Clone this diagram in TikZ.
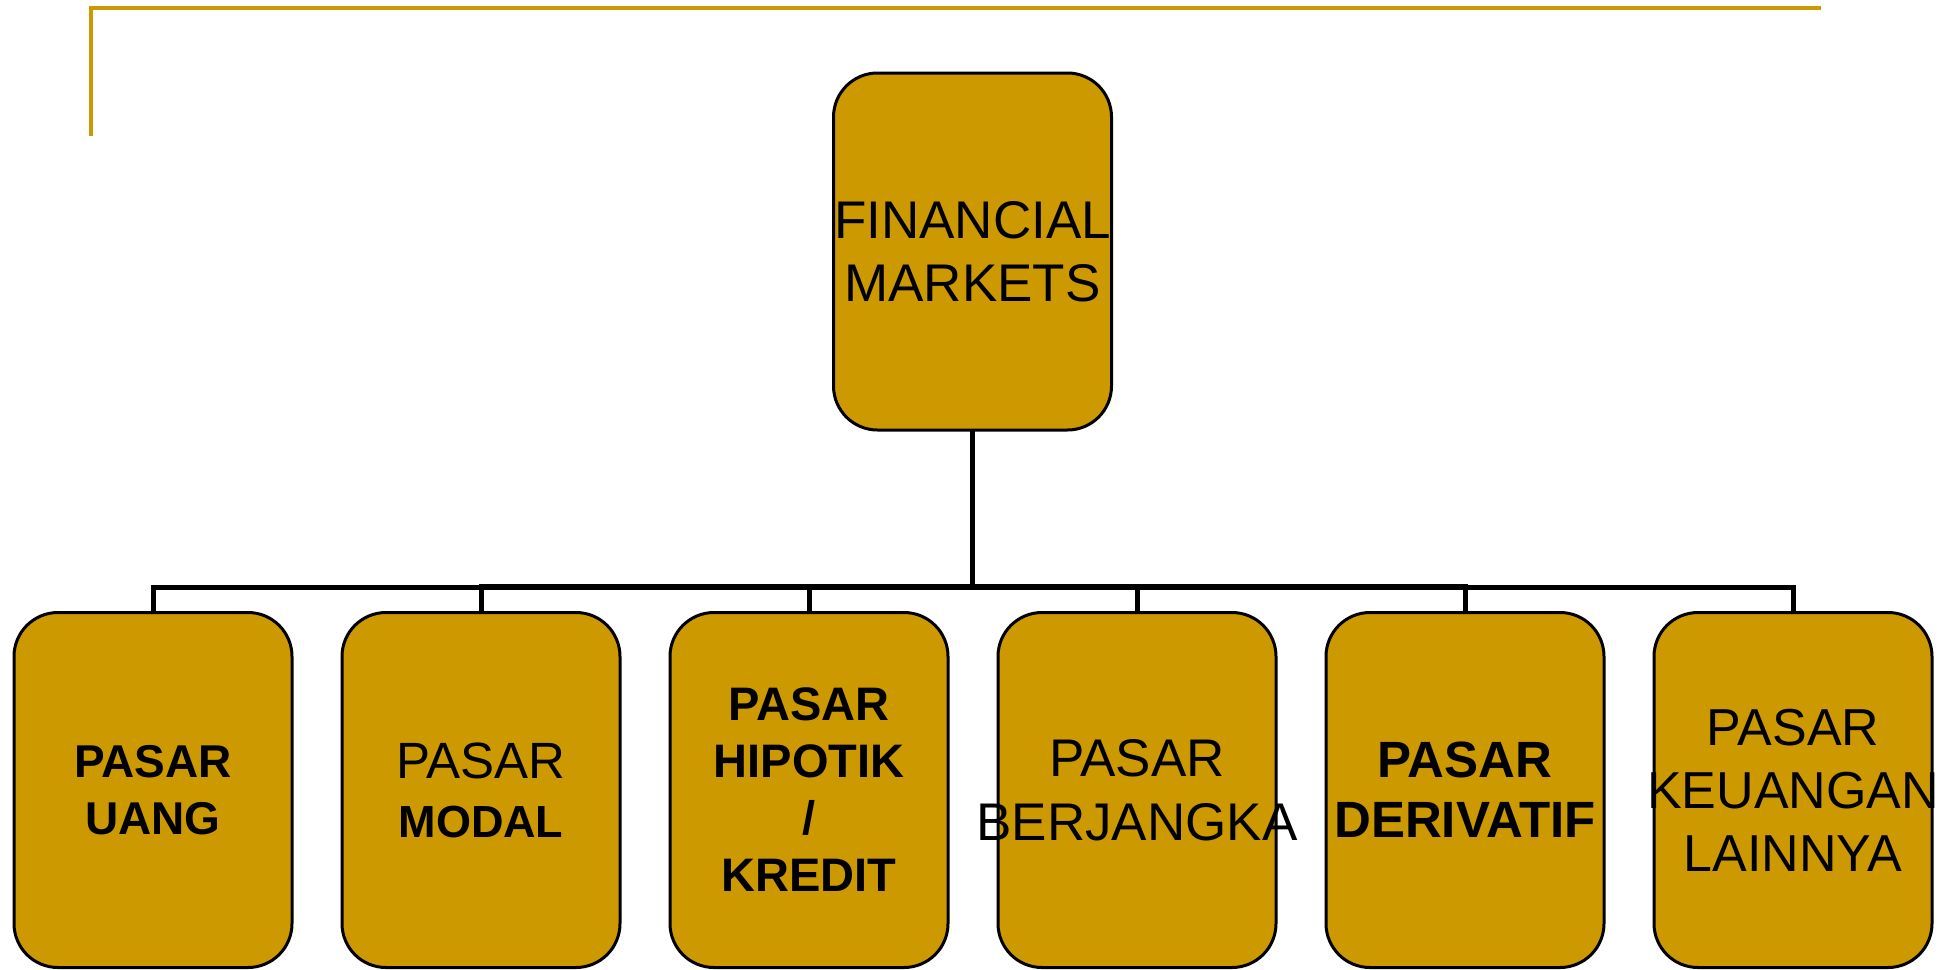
\documentclass[tikz,border=0pt]{standalone}
\usepackage{fontspec}
\setmainfont{Liberation Sans}
\definecolor{gold}{HTML}{CC9900}
\begin{document}
\begin{tikzpicture}[x=1pt,y=-1pt,
  box/.style={draw=black, line width=3pt, fill=gold, rounded corners=44pt,
    minimum width=278pt, minimum height=355pt, inner sep=0pt, outer sep=0pt},
  lbl/.style={align=center, inner sep=0pt, text=black},
  conn/.style={line width=5pt, draw=black},
  rule/.style={line width=4pt, draw=gold}]
\useasboundingbox (0,0) rectangle (1954,969);
% gold corner rule
\coordinate (ra) at (91,136);
\coordinate (rb) at (91,8);
\coordinate (rc) at (1821,8);
\draw[rule] (ra) -- (rb) -- (rc);
% boxes
\node[box, minimum height=357pt] (root) at (972.5,251.5) {};
\node[box] (uang) at (153,790) {};
\node[box] (modal) at (481,790) {};
\node[box] (hipotik) at (809,790) {};
\node[box] (berjangka) at (1137,790) {};
\node[box] (derivatif) at (1465,790) {};
\node[box] (lainnya) at (1793,790) {};
% connectors
\coordinate (hub) at (972.5,587);
\coordinate (hubi) at (972.5,586);
\draw[conn] (root.south) -- (hub);
\draw[conn] (hub) -| (uang.north);
\draw[conn] (hub) -| (lainnya.north);
\draw[conn] (hubi) -| (modal.north);
\draw[conn] (hubi) -| (hipotik.north);
\draw[conn] (hubi) -| (berjangka.north);
\draw[conn] (hubi) -| (derivatif.north);
% labels
\node[lbl, font=\fontsize{53}{63}\selectfont] (troot) at (root.center) {FINANCIAL\\MARKETS};
\node[lbl, font=\fontsize{46}{57}\selectfont\bfseries] (tuang) at (uang.center) {PASAR\\UANG};
\node[lbl, font=\fontsize{51}{59}\selectfont] (tmodal) at (modal.center) {PASAR\\{\fontsize{45}{59}\selectfont\bfseries MODAL}};
\node[lbl, font=\fontsize{47}{57}\selectfont\bfseries] (thipotik) at (hipotik.center) {PASAR\\HIPOTIK\\/\\KREDIT};
\node[lbl, font=\fontsize{53}{64}\selectfont] (tberjangka) at (berjangka.center) {PASAR\\BERJANGKA};
\node[lbl, font=\fontsize{51}{60}\selectfont\bfseries] (tderivatif) at (derivatif.center) {PASAR\\DERIVATIF};
\node[lbl, font=\fontsize{52}{63}\selectfont] (tlainnya) at (lainnya.center) {PASAR\\KEUANGAN\\LAINNYA};
\end{tikzpicture}
\end{document}
